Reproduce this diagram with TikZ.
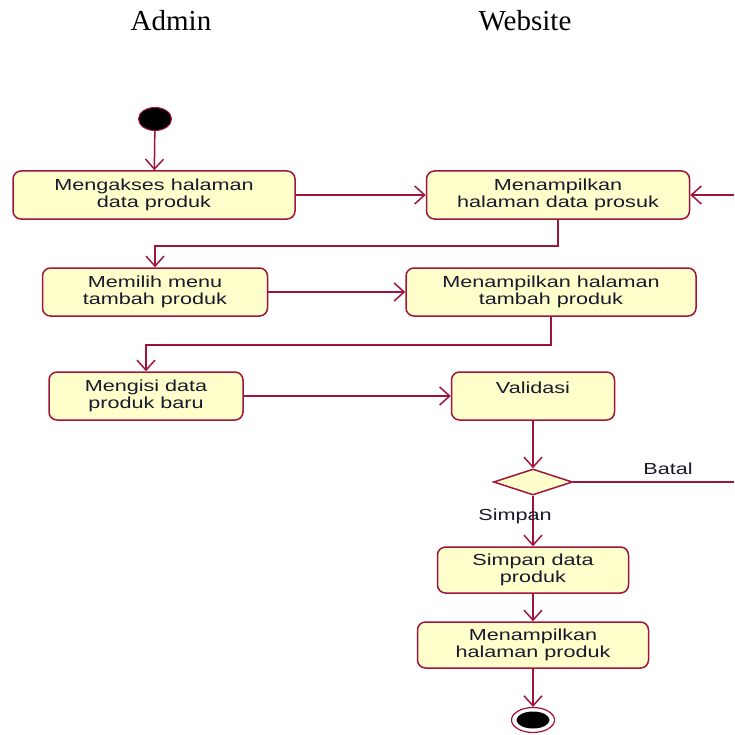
\documentclass[tikz,border=0pt]{standalone}
\usepackage{fontspec}
\usetikzlibrary{shapes.geometric,arrows.meta}
\newfontfamily\roseFont[FakeStretch=1.35]{Liberation Sans}
\newfontfamily\laneFont{Liberation Serif}
\definecolor{roseLine}{RGB}{160,20,60}
\definecolor{roseFill}{RGB}{255,255,204}
\definecolor{roseInk}{RGB}{25,25,45}
\begin{document}
\begin{tikzpicture}[x=1pt,y=-1pt,
  lane/.style={anchor=base, inner sep=0pt, font={\laneFont\fontsize{29}{32}\selectfont}},
  activity/.style={draw=roseLine, fill=roseFill, line width=1.5pt, rounded corners=8pt, align=center, inner sep=0pt, text=roseInk, font={\roseFont\fontsize{16}{17}\selectfont}},
  guard/.style={anchor=base, inner sep=0pt, text=roseInk, font={\roseFont\fontsize{16}{17}\selectfont}},
  decision/.style={diamond, draw=roseLine, fill=roseFill, line width=1.5pt, minimum width=79, minimum height=26, inner sep=0pt},
  initial/.style={ellipse, draw=roseLine, fill=black, line width=1pt, minimum width=33, minimum height=23, inner sep=0pt},
  final/.style={ellipse, draw=roseLine, fill=white, line width=1.2pt, minimum width=43, minimum height=25, inner sep=0pt},
  finalcore/.style={ellipse, fill=black, minimum width=33, minimum height=17, inner sep=0pt},
  line/.style={draw=roseLine, line width=1.5pt},
  flow/.style={line, -{Straight Barb[length=10pt,width=18pt,line width=1.5pt]}}]
\useasboundingbox (0,0) rectangle (734,735);
\node[lane] (admin) at (171,31) {Admin};
\node[lane] (website) at (525,31) {Website};
\node[initial] (start) at (155,119) {};
\node[activity, minimum width=282, minimum height=48] (akses) at (154,195) {Mengakses halaman\\data produk};
\node[activity, minimum width=263, minimum height=48] (tampilData) at (558,195) {Menampilkan\\halaman data prosuk};
\node[activity, minimum width=225, minimum height=48] (pilihMenu) at (155,292) {Memilih menu\\tambah produk};
\node[activity, minimum width=290, minimum height=48] (tampilTambah) at (551,292) {Menampilkan halaman\\tambah produk};
\node[activity, minimum width=194, minimum height=48] (isiData) at (146,396) {Mengisi data\\produk baru};
\node[activity, minimum width=163, minimum height=48] (validasi) at (533,396) {Validasi\\\mbox{}};
\node[decision] (cek) at (533,482) {};
\node[activity, minimum width=191, minimum height=46] (simpan) at (533,570) {Simpan data\\produk};
\node[activity, minimum width=231, minimum height=46] (tampilProduk) at (533,645) {Menampilkan\\halaman produk};
\node[final] (akhir) at (533,720) {};
\node[finalcore] (akhirInti) at (akhir) {};
\coordinate (batalKeluar) at (734,482);
\coordinate (batalMasuk) at (734,195);
\draw[flow] (start) -- (akses);
\draw[flow] (akses) -- (tampilData);
\draw[flow] (batalMasuk) -- (tampilData.east);
\draw[flow] (tampilData.south) -- ++(0,26) -| (pilihMenu.north);
\draw[flow] (pilihMenu) -- (tampilTambah);
\draw[flow] (tampilTambah.south) -- ++(0,28) -| (isiData.north);
\draw[flow] (isiData) -- (validasi);
\draw[flow] (validasi) -- (cek);
\draw[line] (cek.east) -- node[guard, pos=0.59, yshift=8pt] (labelBatal) {Batal} (batalKeluar);
\draw[flow] (cek) -- node[guard, pos=0.49, xshift=-18pt] (labelSimpan) {Simpan} (simpan);
\draw[flow] (simpan) -- (tampilProduk);
\draw[flow] (tampilProduk) -- (akhir);
\end{tikzpicture}
\end{document}
